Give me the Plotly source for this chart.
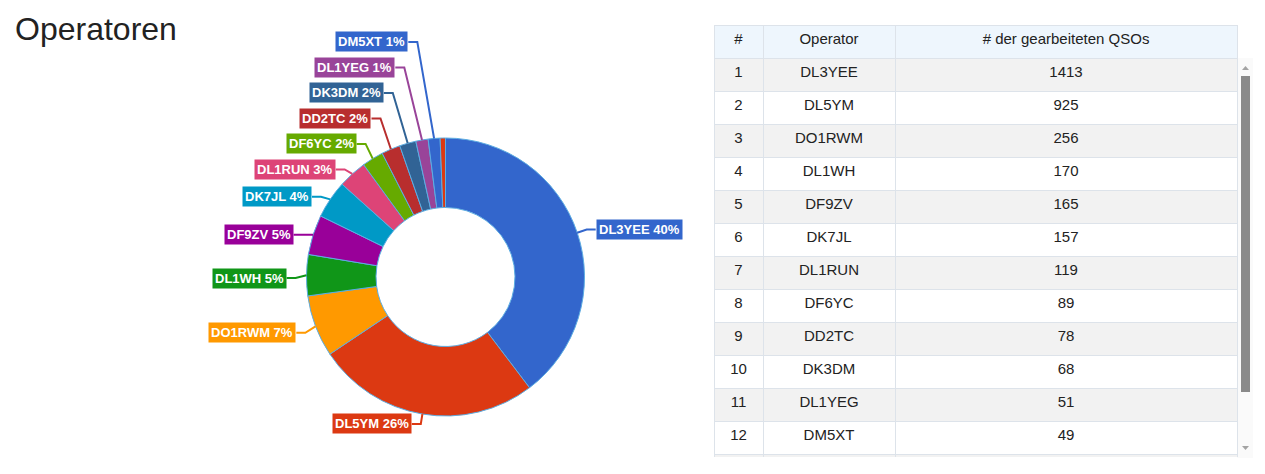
import math
import plotly.graph_objects as go

# Daten: gearbeitete QSOs je Operator
operatoren = ['DL3YEE', 'DL5YM', 'DO1RWM', 'DL1WH', 'DF9ZV', 'DK7JL', 'DL1RUN',
              'DF6YC', 'DD2TC', 'DK3DM', 'DL1YEG', 'DM5XT', 'Sonstige']
qsos = [1413, 925, 256, 170, 165, 157, 119, 89, 78, 68, 51, 49, 22]
spalten = ['#', 'Operator', '# der gearbeiteten QSOs']

farben = ['#3366cc', '#dc3912', '#ff9900', '#109618', '#990099', '#0099c6',
          '#dd4477', '#66aa00', '#b82e2e', '#316395', '#994499', '#3366cc', '#dc3912']

W, H = 1265, 474
OFF = 8  # Rand des <body> im Browser
FW, FH = W - 2 * OFF, H - 2 * OFF
# Mittelpunkt und Radius der Torte in Pixel (Seitenkoordinaten)
CX, CY, R = 445.5, 277, 139
SCHRIFT = 'Liberation Sans, Arial, sans-serif'


def px_x(a, b):
    return [(a - OFF) / FW, (b - OFF) / FW]


def px_y(top, bottom):
    return [1 - (bottom - OFF) / FH, 1 - (top - OFF) / FH]


def beschriftungen():
    # Position der Labels aus den Winkeln der Segmente berechnen
    total = sum(qsos)
    acc = 0
    items = []
    for name, v, c in zip(operatoren, qsos, farben):
        frac = v / total
        mid = (acc + frac / 2) * 2 * math.pi
        acc += frac
        if frac < 0.01:
            continue
        side = 1 if math.sin(mid) >= 0 else -1
        items.append(dict(text=f'{name} {int(frac * 100 + 0.5)}%', color=c, side=side,
                          ax=CX + R * math.sin(mid), ay=CY - R * math.cos(mid),
                          x1=CX + (R + 10) * math.sin(mid), y1=CY - (R + 10) * math.cos(mid)))
    # Labels auseinanderschieben (von unten nach oben)
    for side in (1, -1):
        grp = sorted([i for i in items if i['side'] == side], key=lambda i: -i['y1'])
        prev = None
        for i in grp:
            ly = i['y1'] if prev is None else min(i['y1'], prev - 25.5)
            i['ly'] = ly
            prev = ly
        if side < 0:
            for i in grp[1:]:
                i['ly'] += 3
    annotations, shapes = [], []
    for i in items:
        ex = i['x1'] + i['side'] * min(0.3 * abs(i['ly'] - i['y1']), 16)
        bx = ex + i['side'] * 9
        shapes.append(dict(type='path', xref='x', yref='y',
                           path=f"M {i['ax']:.1f},{i['ay']:.1f} L {ex:.1f},{i['ly']:.1f} L {bx:.1f},{i['ly']:.1f}",
                           line=dict(color=i['color'], width=2)))
        annotations.append(dict(x=bx, y=i['ly'], xref='x', yref='y',
                                text='<b>' + i['text'] + '</b>', showarrow=False,
                                xanchor='left' if i['side'] > 0 else 'right', yanchor='middle',
                                font=dict(family=SCHRIFT, size=13, color='white'),
                                bgcolor=i['color'], borderpad=2))
    return annotations, shapes


pie = go.Pie(labels=operatoren, values=qsos, hole=0.5, sort=False,
             direction='clockwise', rotation=0, textinfo='none', hoverinfo='label+value+percent',
             marker=dict(colors=farben, line=dict(color='#5dade2', width=1)),
             domain=dict(x=px_x(CX - R, CX + R), y=px_y(CY - R, CY + R)),
             showlegend=False)

n = len(operatoren)
zeilen_farben = ['#f2f2f2' if k % 2 == 0 else 'white' for k in range(n)]
tabelle = go.Table(
    domain=dict(x=px_x(714, 1237), y=px_y(25, 458)),
    columnwidth=[49, 132, 342],
    header=dict(values=spalten, fill_color='#eef6fd', line_color='#dde3ea',
                align='center', height=33, font=dict(family=SCHRIFT, size=15, color='#222')),
    cells=dict(values=[list(range(1, n + 1)), operatoren, qsos],
               fill_color=[zeilen_farben], line_color='#dde3ea',
               align='center', height=33, font=dict(family=SCHRIFT, size=15, color='#222')))

annotations, shapes = beschriftungen()
annotations.append(dict(x=13, y=29, xref='x', yref='y', text='Operatoren', showarrow=False,
                        xanchor='left', yanchor='middle',
                        font=dict(family=SCHRIFT, size=32, color='#222')))

# Scrollleiste neben der Tabelle
shapes += [
    dict(type='rect', xref='x', yref='y', x0=1237, x1=1253, y0=58, y1=458,
         fillcolor='#fafafa', line_width=0, layer='below'),
    dict(type='rect', xref='x', yref='y', x0=1241, x1=1250, y0=76, y1=392,
         fillcolor='#8a8a8a', line_width=0),
    dict(type='path', xref='x', yref='y', path='M 1242,70 L 1249,70 L 1245.5,66 Z',
         fillcolor='#a3a3a3', line_width=0),
    dict(type='path', xref='x', yref='y', path='M 1242,446 L 1249,446 L 1245.5,450 Z',
         fillcolor='#a3a3a3', line_width=0),
]

layout = dict(
    width=FW, height=FH,
    margin=dict(l=0, r=0, t=0, b=0),
    paper_bgcolor='white', plot_bgcolor='rgba(0,0,0,0)',
    xaxis=dict(range=[OFF, OFF + FW], visible=False, fixedrange=True, domain=[0, 1]),
    yaxis=dict(range=[OFF + FH, OFF], visible=False, fixedrange=True, domain=[0, 1]),
    annotations=annotations, shapes=shapes,
)

fig = go.Figure(data=[pie, tabelle], layout=layout)
fig.write_html("out.html")
